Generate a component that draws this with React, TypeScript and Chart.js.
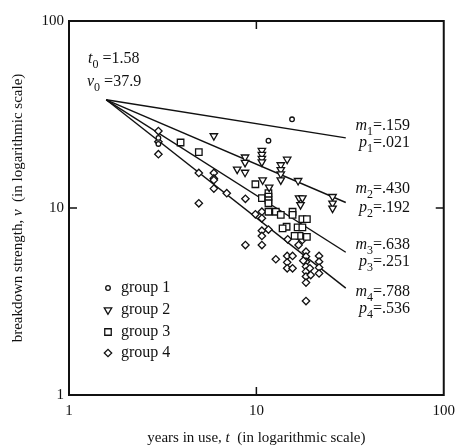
import React, { useEffect, useRef } from 'react';
import { Chart, registerables } from 'chart.js';
import { drawPoint } from 'chart.js/helpers';

Chart.register(...registerables);

const SERIF = '"Liberation Serif", "DejaVu Serif", serif';

// ---- data ----
const groupLabels = ['group 1', 'group 2', 'group 3', 'group 4'];

const g1T = [3.0, 3.0, 11.6, 15.5];
const g1V = [23.7, 22.0, 22.9, 29.8];

const g2T = [5.93, 7.9, 8.7, 8.7, 8.7, 10.7, 10.7, 10.7, 10.7, 10.8, 11.7, 13.5, 13.5, 13.5, 13.5, 14.6, 16.7, 16.9, 17.6, 17.2, 25.5, 25.5, 25.5];
const g2V = [24.3, 16.1, 18.7, 17.5, 15.5, 20.3, 19.3, 18.4, 17.6, 14.1, 12.9, 17.0, 16.0, 15.2, 14.1, 18.2, 14.0, 11.3, 11.3, 10.4, 11.5, 10.6, 9.96];

const g3T = [3.94, 4.93, 9.88, 10.7, 11.6, 11.6, 11.6, 11.6, 11.6, 12.7, 13.5, 15.6, 15.6, 17.6, 18.6, 14.5, 13.8, 16.6, 17.6, 17.0, 16.0, 18.6];
const g3V = [22.4, 19.9, 13.4, 11.3, 12.0, 11.5, 11.0, 10.6, 9.55, 9.55, 9.18, 9.55, 9.18, 8.73, 8.73, 7.94, 7.79, 7.88, 7.88, 7.09, 7.09, 7.0];

const g4T = [3.0, 3.0, 3.0, 4.93, 4.93, 5.93, 5.93, 5.93, 5.93, 6.95, 8.74, 8.74, 9.88, 10.7, 10.7, 10.7, 10.7, 10.7, 11.6, 12.7, 14.7, 14.6, 15.6, 14.6, 14.6, 15.6, 16.8, 17.6, 16.8, 18.4, 18.4, 18.4, 18.4, 18.4, 18.4, 18.4, 17.8, 19.3, 19.5, 21.6, 21.6, 21.6, 21.6, 18.4];
const g4V = [25.8, 22.6, 19.4, 15.4, 10.6, 15.4, 14.4, 14.1, 12.7, 12.0, 11.2, 6.34, 9.25, 9.55, 8.81, 7.56, 7.09, 6.34, 7.67, 5.32, 6.80, 5.54, 5.54, 5.12, 4.76, 4.76, 7.05, 6.75, 6.34, 5.84, 5.50, 5.16, 4.86, 4.57, 4.30, 3.99, 5.23, 4.76, 4.38, 5.54, 5.16, 4.80, 4.47, 3.18];

// fitted lines: all start at (t0, v0), end at t = 30
const lineStartT = 1.58;
const lineStartV = 37.9;
const lineEndT = 30;
const lineEndV = [23.7, 10.7, 5.8, 3.73];
const mValues = ['.159', '.430', '.638', '.788'];
const pValues = ['.021', '.192', '.251', '.536'];

const tickValues = [1, 10, 100];

type Part = { t: string; i?: boolean; sub?: boolean };

function partFont(p: Part, size: number) {
  const s = p.sub ? Math.round(size * 0.72) : size;
  return `${p.i ? 'italic ' : ''}${s}px ${SERIF}`;
}

function richWidth(ctx: CanvasRenderingContext2D, parts: Part[], size: number) {
  let w = 0;
  for (const p of parts) {
    ctx.font = partFont(p, size);
    w += ctx.measureText(p.t).width;
  }
  return w;
}

function drawRich(ctx: CanvasRenderingContext2D, parts: Part[], x: number, y: number, size: number, align: 'left' | 'center' | 'right' = 'left') {
  const w = richWidth(ctx, parts, size);
  let cx = align === 'left' ? x : align === 'center' ? x - w / 2 : x - w;
  ctx.textAlign = 'left';
  ctx.textBaseline = 'alphabetic';
  for (const p of parts) {
    ctx.font = partFont(p, size);
    ctx.fillText(p.t, cx, p.sub ? y + size * 0.3 : y);
    cx += ctx.measureText(p.t).width;
  }
}

const styles = [
  { pointStyle: 'circle', radius: 2.3, rotation: 0, borderWidth: 1.3 },
  { pointStyle: 'triangle', radius: 4.3, rotation: 180, borderWidth: 1.3 },
  { pointStyle: 'rect', radius: 4.6, rotation: 0, borderWidth: 1.3 },
  { pointStyle: 'rectRot', radius: 3.7, rotation: 0, borderWidth: 1.3 },
];

const decorPlugin = {
  id: 'decor',
  afterDraw(chart: any) {
    const { ctx, chartArea: a, scales } = chart;
    const xs = scales.x;
    const ys = scales.y;
    ctx.save();
    ctx.strokeStyle = '#111';
    ctx.fillStyle = '#111';
    // frame
    ctx.lineWidth = 2;
    ctx.strokeRect(a.left, a.top, a.right - a.left, a.bottom - a.top);
    // inward ticks at 10
    const tx = xs.getPixelForValue(10);
    const ty = ys.getPixelForValue(10);
    const L = 8;
    ctx.lineWidth = 1.5;
    ctx.beginPath();
    ctx.moveTo(tx, a.bottom); ctx.lineTo(tx, a.bottom - L);
    ctx.moveTo(tx, a.top); ctx.lineTo(tx, a.top + L);
    ctx.moveTo(a.left, ty); ctx.lineTo(a.left + L, ty);
    ctx.moveTo(a.right, ty); ctx.lineTo(a.right - L, ty);
    ctx.stroke();

    // axis titles
    drawRich(ctx, [{ t: 'years in use, ' }, { t: 't', i: true }, { t: '  (in logarithmic scale)' }], (a.left + a.right) / 2, 442, 15, 'center');
    ctx.save();
    ctx.translate(22, (a.top + a.bottom) / 2);
    ctx.rotate(-Math.PI / 2);
    drawRich(ctx, [{ t: 'breakdown strength, ' }, { t: 'ν', i: true }, { t: '  (in logarithmic scale)' }], 0, 0, 15, 'center');
    ctx.restore();

    // t0 / v0
    drawRich(ctx, [{ t: 't', i: true }, { t: '0', sub: true }, { t: ' =' + lineStartT }], 88, 63, 16);
    drawRich(ctx, [{ t: 'ν', i: true }, { t: '0', sub: true }, { t: ' =' + lineStartV }], 87, 86, 16);

    // m / p labels
    const mY = [130, 193, 249, 296];
    const pY = [147, 212, 266, 313];
    for (let i = 0; i < 4; i++) {
      drawRich(ctx, [{ t: 'm', i: true }, { t: String(i + 1), sub: true }, { t: '=' + mValues[i] }], 410, mY[i], 16, 'right');
      drawRich(ctx, [{ t: 'p', i: true }, { t: String(i + 1), sub: true }, { t: '=' + pValues[i] }], 410, pY[i], 16, 'right');
    }

    // legend
    const rowY = [288, 310, 332, 353];
    for (let i = 0; i < 4; i++) {
      const st = styles[i];
      ctx.fillStyle = '#fff';
      ctx.strokeStyle = '#111';
      ctx.lineWidth = st.borderWidth;
      drawPoint(ctx, { pointStyle: st.pointStyle as any, radius: st.radius, rotation: st.rotation, borderWidth: st.borderWidth }, 108, rowY[i]);
      ctx.fillStyle = '#111';
      ctx.font = `16px ${SERIF}`;
      ctx.textAlign = 'left';
      ctx.textBaseline = 'middle';
      ctx.fillText(groupLabels[i], 121, rowY[i]);
    }
    ctx.restore();
  },
};

function pts(t: number[], v: number[]) {
  return t.map((x, i) => ({ x, y: v[i] }));
}

export default function App() {
  const ref = useRef<HTMLCanvasElement | null>(null);
  useEffect(() => {
    if (!ref.current) return;
    const groups = [pts(g1T, g1V), pts(g2T, g2V), pts(g3T, g3V), pts(g4T, g4V)];
    const scatterSets = groups.map((d, i) => ({
      type: 'scatter' as const,
      label: groupLabels[i],
      data: d,
      pointStyle: styles[i].pointStyle,
      pointRadius: styles[i].radius,
      pointRotation: styles[i].rotation,
      pointBorderWidth: styles[i].borderWidth,
      pointBackgroundColor: '#fff',
      pointBorderColor: '#111',
      order: 1,
    }));
    const lineSets = lineEndV.map((ev, i) => ({
      type: 'line' as const,
      label: 'fit ' + (i + 1),
      data: [{ x: lineStartT, y: lineStartV }, { x: lineEndT, y: ev }],
      borderColor: '#111',
      borderWidth: 1.4,
      pointRadius: 0,
      fill: false,
      order: 2,
    }));
    const fontTick = { family: SERIF, size: 15 };
    const chart = new Chart(ref.current, {
      type: 'scatter',
      data: { datasets: [...lineSets, ...scatterSets] as any },
      plugins: [decorPlugin],
      options: {
        animation: false,
        responsive: false,
        layout: { padding: { top: 21, right: 17, bottom: 0, left: 0 } },
        plugins: { legend: { display: false }, tooltip: { enabled: false } },
        scales: {
          x: {
            type: 'logarithmic',
            min: 1,
            max: 100,
            grid: { display: false, drawTicks: false },
            border: { display: false },
            afterFit: (s: any) => { s.height = 51; },
            ticks: {
              autoSkip: false,
              maxRotation: 0,
              padding: 7,
              color: '#111',
              font: fontTick,
              callback: (v: any) => (tickValues.includes(Number(v)) ? String(v) : ''),
            },
          },
          y: {
            type: 'logarithmic',
            min: 1,
            max: 100,
            grid: { display: false, drawTicks: false },
            border: { display: false },
            afterFit: (s: any) => { s.width = 69; },
            ticks: {
              autoSkip: false,
              padding: 5,
              color: '#111',
              font: fontTick,
              callback: (v: any) => (tickValues.includes(Number(v)) ? String(v) : ''),
            },
          },
        },
      } as any,
    });
    return () => chart.destroy();
  }, []);
  return (
    <div style={{ position: 'fixed', left: 0, top: 0, width: 462, height: 446, background: '#fff' }}>
      <canvas ref={ref} width={462} height={446} style={{ width: 462, height: 446, display: 'block' }} />
    </div>
  );
}
